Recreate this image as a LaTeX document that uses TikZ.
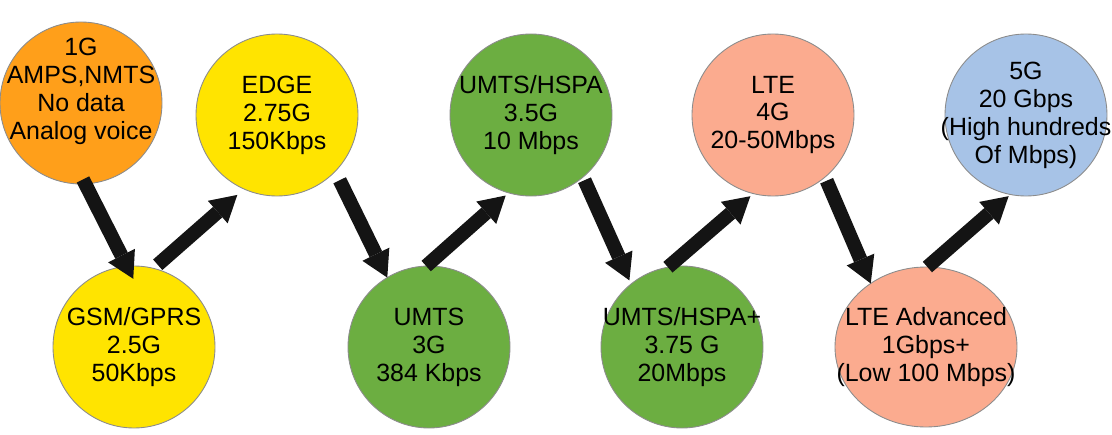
\documentclass[tikz,border=0pt]{standalone}
\usepackage{fontspec}
\setmainfont{Liberation Sans}
\usetikzlibrary{arrows.meta, shapes.geometric}

\definecolor{genorange}{RGB}{255,159,26}
\definecolor{genyellow}{RGB}{255,228,0}
\definecolor{gengreen}{RGB}{108,174,65}
\definecolor{gensalmon}{RGB}{251,171,143}
\definecolor{genblue}{RGB}{167,195,231}

\begin{document}
\begin{tikzpicture}[>={Triangle[length=0.52cm,width=0.6cm,line width=0pt]},
    gen/.style={circle, draw=black!45, line width=0.5pt, minimum size=3.24cm, inner sep=-1cm, outer sep=0pt,
                align=center, font=\fontsize{14.2}{15.9}\selectfont},
    link/.style={->, line width=0.28cm, black!92}]

        \useasboundingbox (0,0) rectangle (22.24,8.68);

        % top row
        \node[gen, fill=genorange, text depth=0.56cm] (g1) at (1.62,6.62) {1G\\AMPS,NMTS\\No data\\Analog voice};
        \node[gen, fill=genyellow] (g275) at (5.54,6.38) {EDGE\\2.75G\\150Kbps};
        \node[gen, fill=gengreen] (g35) at (10.62,6.38) {UMTS/HSPA\\3.5G\\10 Mbps};
        \node[gen, fill=gensalmon] (g4) at (15.46,6.38) {LTE\\4G\\20-50Mbps};
        \node[gen, fill=genblue] (g5) at (20.52,6.38) {5G\\20 Gbps\\(High hundreds\\Of Mbps)};

        % bottom row
        \node[gen, fill=genyellow] (g25) at (2.68,1.74) {GSM/GPRS\\2.5G\\50Kbps};
        \node[gen, fill=gengreen] (g3) at (8.58,1.74) {UMTS\\3G\\384 Kbps};
        \node[gen, fill=gengreen] (g375) at (13.64,1.74) {UMTS/HSPA+\\3.75 G\\20Mbps};
        \node[gen, ellipse, fill=gensalmon, minimum width=3.64cm, minimum height=3.2cm] (g4a) at (18.52,1.74) {LTE Advanced\\1Gbps+\\(Low 100 Mbps)};

        \path[link]
        (g1.-87)   edge [shorten <=-0.1cm, shorten >=-0.28cm] (g25.95)
        (g25.76)   edge [shorten <=0.11cm, shorten >=0.18cm] (g275.-114)
        (g275.-44) edge [shorten <=0.2cm] (g3.121)
        (g3.92)    edge [shorten >=0.08cm] (g35.-106)
        (g35.-50)  edge [shorten <=0.07cm, shorten >=0.08cm] (g375.129)
        (g375.100) edge [shorten >=0.08cm] (g4.-104)
        (g4.-50)   edge [shorten <=0.08cm] (g4a.131)
        (g4a.89)   edge [shorten >=0.05cm] (g5.-101)
        ;
\end{tikzpicture}
\end{document}
